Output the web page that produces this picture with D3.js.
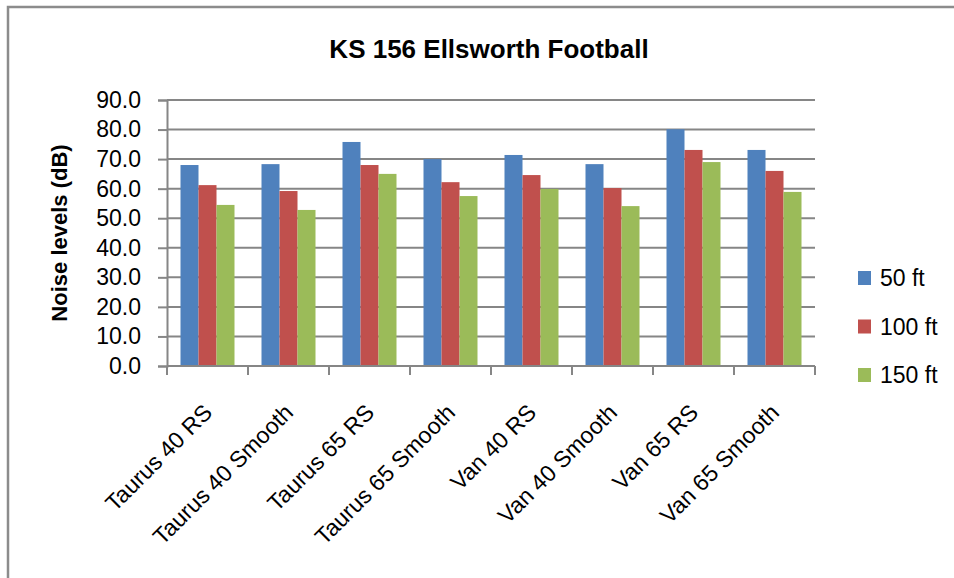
<!DOCTYPE html>
<html>
<head>
<meta charset="utf-8">
<script src="https://cdn.jsdelivr.net/npm/d3@7"></script>
<style>
  html, body { margin: 0; padding: 0; background: #fff; }
  svg { display: block; font-family: "Liberation Sans", Arial, sans-serif; }
</style>
</head>
<body>
<svg id="chart" width="954" height="578"></svg>
<script>
const categories = ["Taurus 40 RS", "Taurus 40 Smooth", "Taurus 65 RS", "Taurus 65 Smooth",
                    "Van 40 RS", "Van 40 Smooth", "Van 65 RS", "Van 65 Smooth"];
const seriesNames = ["50 ft", "100 ft", "150 ft"];
const values50  = [68.0, 68.3, 75.8, 70.0, 71.4, 68.3, 80.1, 73.1];
const values100 = [61.2, 59.2, 68.0, 62.2, 64.6, 60.2, 73.1, 66.0];
const values150 = [54.5, 52.8, 65.0, 57.5, 59.9, 54.1, 69.0, 58.9];
const yTicks = [0, 10, 20, 30, 40, 50, 60, 70, 80, 90];
const colors = ["#4F81BD", "#C0504D", "#9BBB59"];
const titleText = "KS 156 Ellsworth Football";
const yLabel = "Noise levels (dB)";

const seriesValues = [values50, values100, values150];
const svg = d3.select("#chart");
const gridColor = "#868686";
const FONT = "Liberation Sans";

const plot = { left: 167, right: 815, top: 100, bottom: 366 };

// outer border (only top and left visible in reference)
svg.append("rect")
  .attr("x", 8).attr("y", 7)
  .attr("width", 1000).attr("height", 1000)
  .attr("fill", "none").attr("stroke", "#8c8c8c").attr("stroke-width", 2.5);

const x = d3.scaleBand().domain(categories).range([plot.left, plot.right])
  .paddingInner(1 / 3).paddingOuter(1 / 6);
const xs = d3.scaleBand().domain(seriesNames).range([0, x.bandwidth()]).padding(0);
const y = d3.scaleLinear().domain([0, 90]).range([plot.bottom, plot.top]);

// gridlines
svg.append("g").selectAll("line").data(yTicks).join("line")
  .attr("x1", plot.left).attr("x2", plot.right)
  .attr("y1", d => y(d)).attr("y2", d => y(d))
  .attr("stroke", gridColor).attr("stroke-width", 2);

// bars
const groups = svg.append("g").selectAll("g").data(categories).join("g")
  .attr("transform", d => `translate(${x(d)},0)`);
groups.selectAll("rect")
  .data((c, i) => seriesNames.map((s, j) => ({ s, v: seriesValues[j][i], j })))
  .join("rect")
  .attr("x", d => xs(d.s))
  .attr("width", xs.bandwidth())
  .attr("y", d => y(d.v))
  .attr("height", d => y(0) - y(d.v))
  .attr("fill", d => colors[d.j]);

// y axis
const yAxis = svg.append("g")
  .attr("transform", `translate(${plot.left},0)`)
  .call(d3.axisLeft(y).tickValues(yTicks).tickFormat(d3.format(".1f")).tickSize(9).tickPadding(17));
yAxis.select(".domain").attr("stroke", gridColor).attr("stroke-width", 2);
yAxis.selectAll(".tick line").attr("stroke", gridColor).attr("stroke-width", 2);
yAxis.selectAll(".tick text")
  .attr("font-family", FONT).attr("font-size", 23).attr("fill", "#000");

// x axis line & ticks (at category boundaries)
svg.append("line")
  .attr("x1", plot.left).attr("x2", plot.right)
  .attr("y1", y(0)).attr("y2", y(0))
  .attr("stroke", gridColor).attr("stroke-width", 2);
const boundaries = d3.range(categories.length + 1).map(i => plot.left + i * x.step());
svg.append("g").selectAll("line").data(boundaries).join("line")
  .attr("x1", d => d).attr("x2", d => d)
  .attr("y1", y(0)).attr("y2", y(0) + 9)
  .attr("stroke", gridColor).attr("stroke-width", 2);

// x labels rotated
svg.append("g").selectAll("text").data(categories).join("text")
  .attr("transform", d => `translate(${x(d) + x.bandwidth() / 2 + 6},${y(0) + 48}) rotate(-45)`)
  .attr("text-anchor", "end")
  .attr("font-family", FONT)
  .attr("font-size", 23)
  .attr("fill", "#000")
  .text(d => d);

// title
svg.append("text")
  .attr("x", 489).attr("y", 58)
  .attr("text-anchor", "middle")
  .attr("font-family", FONT)
  .attr("font-size", 26).attr("font-weight", "bold")
  .attr("fill", "#000")
  .text(titleText);

// y label
svg.append("text")
  .attr("transform", `translate(67,${(plot.top + plot.bottom) / 2}) rotate(-90)`)
  .attr("text-anchor", "middle")
  .attr("font-family", FONT)
  .attr("font-size", 22).attr("font-weight", "bold")
  .attr("fill", "#000")
  .text(yLabel);

// legend
const legend = svg.append("g").selectAll("g").data(seriesNames).join("g")
  .attr("transform", (d, i) => `translate(858,${286 + i * 48.5})`);
legend.append("rect")
  .attr("x", 0).attr("y", -15).attr("width", 13).attr("height", 14)
  .attr("fill", (d, i) => colors[i]);
legend.append("text")
  .attr("x", 22).attr("y", 0)
  .attr("font-family", FONT)
  .attr("font-size", 23).attr("fill", "#000")
  .text(d => d);
</script>
</body>
</html>
